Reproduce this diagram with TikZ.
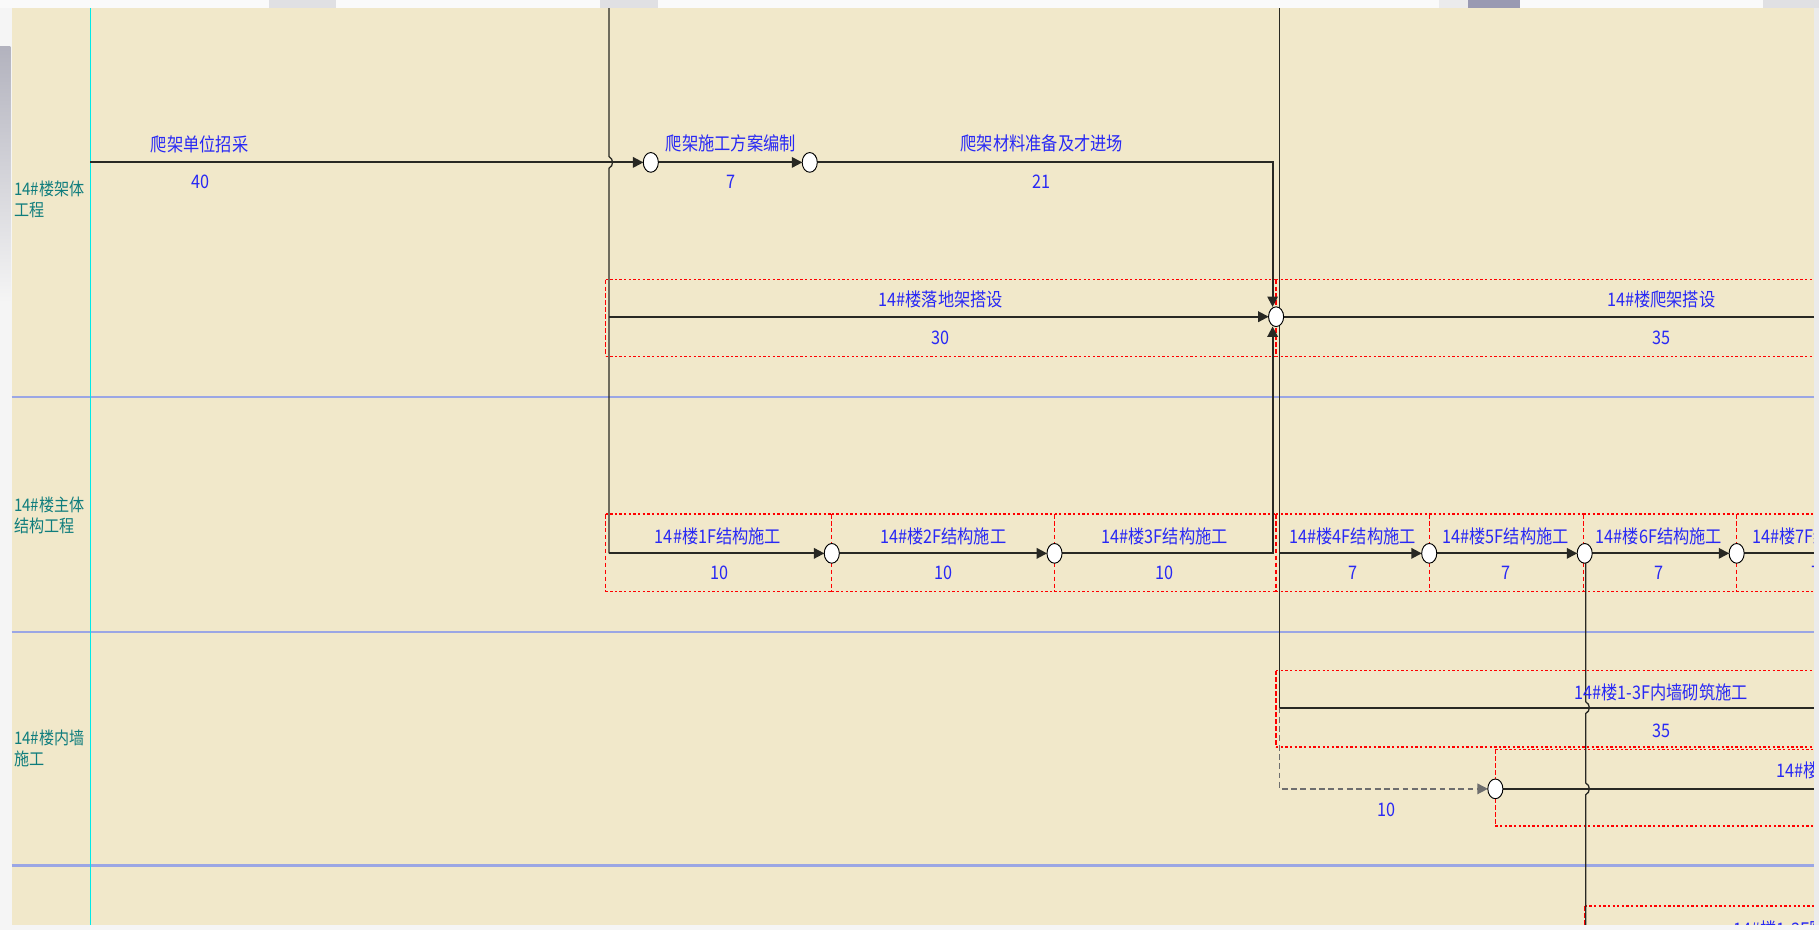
\documentclass[tikz,border=0pt]{standalone}
\usepackage{fontspec}
\newfontfamily\cjk{Noto Sans CJK SC}
\usetikzlibrary{arrows.meta,shapes.geometric}
\definecolor{bg}{RGB}{241,232,202}
\definecolor{txtblue}{RGB}{40,40,245}
\definecolor{laneteal}{RGB}{15,125,125}
\definecolor{laneblue}{RGB}{155,166,228}
\definecolor{cyanline}{RGB}{0,232,232}
\definecolor{edgecol}{RGB}{40,40,35}
\definecolor{dashgrey}{RGB}{110,110,110}
\newcommand\tall[1]{\scalebox{1}[1.15]{#1}}
\begin{document}
\begin{tikzpicture}[x=1pt,y=-1pt,
  ev/.style={ellipse, draw=black, fill=white, line width=0.8pt, minimum width=12pt, minimum height=16pt, inner sep=0pt},
  act/.style={line width=1.6pt, draw=edgecol},
  vline/.style={line width=1.1pt, draw=edgecol},
  arr/.style={-{Triangle[length=9pt,width=9pt]}},
  dashline/.style={line width=1.3pt, draw=dashgrey, dash pattern=on 5pt off 3pt},
  lbl/.style={text=txtblue, font=\cjk\fontsize{14}{16}\selectfont, inner sep=0pt},
  lanelbl/.style={text=laneteal, font=\cjk\fontsize{13}{18}\selectfont, align=left, anchor=west, inner sep=0pt},
  boxh/.style={draw=red, line width=1.1pt, dash pattern=on 2pt off 2pt},
  boxv/.style={draw=red, line width=1.1pt, dash pattern=on 4pt off 2pt},
  laneline/.style={draw=laneblue, line width=2pt}
]
\useasboundingbox (0,0) rectangle (1568,802);
% screenshot surroundings
\fill[black!4] (0,0) rectangle (1568,802);
\fill[white!98!black] (0,0) rectangle (1568,7);
\fill[blue!10!black!12] (232,0) rectangle (290,7);
\fill[blue!10!black!12] (517,0) rectangle (567,7);
\fill[blue!6!black!8] (1240,0) rectangle (1265,7);
\fill[blue!25!black!40] (1265,0) rectangle (1310,7);
\fill[blue!10!black!12] (1520,0) rectangle (1568,7);
\shade[top color=blue!15!black!30, bottom color=black!4] (0,40) rectangle (9,260);
% canvas
\fill[bg] (10,7) rectangle (1564,797);
\begin{scope}
\clip (10,7) rectangle (1564,797);
% lane separators
\draw[laneline] (10,342) -- (1564,342);
\draw[laneline] (10,545) -- (1564,545);
\draw[laneline] (10,746) -- (1564,746);
\draw[cyanline, line width=1pt] (78,7) -- (78,797);

% red boxes (activity frames)
\foreach \a/\b/\t/\u in {522/1100/241/307, 1100/1580/241/307,
   522/717/443/510, 717/909/443/510, 909/1100/443/510, 1100/1232/443/510,
   1232/1365/443/510, 1365/1497/443/510, 1497/1580/443/510,
   1100/1580/578/644, 1289/1580/646/712, 1366/1580/781/830}{
  \draw[boxh] (\a,\t) -- (\b,\t);
  \draw[boxh] (\a,\u) -- (\b,\u);
  \draw[boxv] (\a,\t) -- (\a,\u);
}

% coordinates
\coordinate (s1) at (78,140);
\coordinate (t525) at (525,7);
\coordinate (c525a) at (525,273);
\coordinate (c525b) at (525,477);
\coordinate (t1103) at (1103,7);
\coordinate (c1103a) at (1103,477);
\coordinate (c1103b) at (1103,610);
\coordinate (c1103d) at (1103,680);
\coordinate (c1097a) at (1097,140);
\coordinate (c1097b) at (1097,477);
\coordinate (r273) at (1575,273);
\coordinate (r477) at (1575,477);
\coordinate (r610) at (1575,610);
\coordinate (r680) at (1575,680);
\coordinate (b1367) at (1367,800);

% event nodes
\node[ev] (n1) at (561,140) {};
\node[ev] (n2) at (698,140) {};
\node[ev] (n3) at (1100,273) {};
\node[ev] (n4) at (717,477) {};
\node[ev] (n5) at (909,477) {};
\node[ev] (n6) at (1232,477) {};
\node[ev] (n7) at (1366,477) {};
\node[ev] (n8) at (1497,477) {};
\node[ev] (n9) at (1289,680) {};

% long verticals
\draw[vline] (t525) -- (525,135) .. controls (529,137) and (529,143) .. (525,145) -- (c525b);
\draw[vline] (t1103) -- (c1103b);
\draw[vline] (1367,485) -- (1367,605) .. controls (1371,607) and (1371,613) .. (1367,615)
   -- (1367,675) .. controls (1371,677) and (1371,683) .. (1367,685) -- (b1367);

% activities
\draw[act,arr] (s1) -- (n1);
\draw[act,arr] (n1) -- (n2);
\draw[act,arr] (n2) -- (c1097a) -- (c1097a |- n3.north);
\draw[act,arr] (c525a) -- (n3);
\draw[act] (n3) -- (r273);
\draw[act,arr] (c525b) -- (n4);
\draw[act,arr] (n4) -- (n5);
\draw[act,arr] (n5) -- (c1097b) -- (c1097b |- n3.south);
\draw[act,arr] (c1103a) -- (n6);
\draw[act,arr] (n6) -- (n7);
\draw[act,arr] (n7) -- (n8);
\draw[act] (n8) -- (r477);
\draw[act] (c1103b) -- (r610);
\draw[dashline,-{Triangle[length=9pt,width=9pt]}] (c1103b) -- (c1103d) -- (n9);
\draw[act] (n9) -- (r680);
% redraw event nodes on top
\foreach \n in {n1,n2,n3,n4,n5,n6,n7,n8,n9}{\draw[fill=white,line width=0.8pt] (\n) ellipse (6.5pt and 8.5pt);}

% lane labels
\node[lanelbl] (L1) at (12,172) {\tall{14\#楼架体}\\\tall{工程}};
\node[lanelbl] (L2) at (12,444) {\tall{14\#楼主体}\\\tall{结构工程}};
\node[lanelbl] (L3) at (12,645) {\tall{14\#楼内墙}\\\tall{施工}};

% activity labels
\node[lbl] (a1) at (172,124) {\tall{爬架单位招采}};
\node[lbl] (d1) at (173,157) {\tall{40}};
\node[lbl] (a2) at (630,124) {\tall{爬架施工方案编制}};
\node[lbl] (d2) at (630,157) {\tall{7}};
\node[lbl] (a3) at (898,124) {\tall{爬架材料准备及才进场}};
\node[lbl] (d3) at (898,157) {\tall{21}};
\node[lbl] (a4) at (811,258) {\tall{14\#楼落地架搭设}};
\node[lbl] (d4) at (811,291) {\tall{30}};
\node[lbl] (a5) at (1432,258) {\tall{14\#楼爬架搭设}};
\node[lbl] (d5) at (1432,291) {\tall{35}};
\node[lbl] (a6) at (619,462) {\tall{14\#楼1F结构施工}};
\node[lbl] (d6) at (620,494) {\tall{10}};
\node[lbl] (a7) at (813,462) {\tall{14\#楼2F结构施工}};
\node[lbl] (d7) at (813,494) {\tall{10}};
\node[lbl] (a8) at (1004,462) {\tall{14\#楼3F结构施工}};
\node[lbl] (d8) at (1004,494) {\tall{10}};
\node[lbl] (a9) at (1166,462) {\tall{14\#楼4F结构施工}};
\node[lbl] (d9) at (1166,494) {\tall{7}};
\node[lbl] (a10) at (1298,462) {\tall{14\#楼5F结构施工}};
\node[lbl] (d10) at (1298,494) {\tall{7}};
\node[lbl] (a11) at (1430,462) {\tall{14\#楼6F结构施工}};
\node[lbl] (d11) at (1430,494) {\tall{7}};
\node[lbl] (a12) at (1565,462) {\tall{14\#楼7F结构施工}};
\node[lbl] (d12) at (1565,494) {\tall{7}};
\node[lbl] (a13) at (1432,597) {\tall{14\#楼1-3F内墙砌筑施工}};
\node[lbl] (d13) at (1432,630) {\tall{35}};
\node[lbl] (d14) at (1195,698) {\tall{10}};
\node[lbl,anchor=west] (a15) at (1531,664) {\tall{14\#楼}};
\node[lbl,anchor=west] (a16) at (1494,801) {\tall{14\#楼1-3F阳}};
\end{scope}
\fill[black!8] (1564,7) rectangle (1568,797);
\end{tikzpicture}
\end{document}
